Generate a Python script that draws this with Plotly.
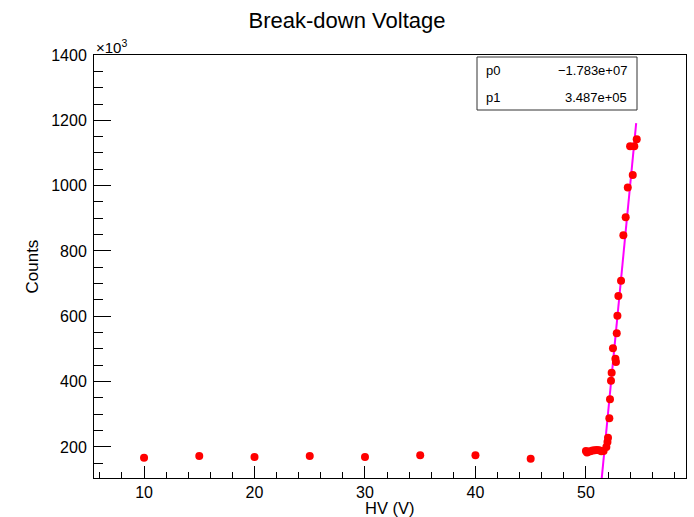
import plotly.graph_objects as go

# ---- data (counts in units of 10^3) ----
hv = [10, 15, 20, 25, 30, 35, 40, 45,
      50.0, 50.1, 50.2, 50.4, 50.6, 50.8, 51.0, 51.2, 51.4, 51.6,
      51.85, 51.95, 52.0,
      52.12, 52.18, 52.27, 52.33, 52.45, 52.67, 52.72, 52.79, 52.85, 52.94,
      53.18, 53.39, 53.6, 53.79, 54.0, 54.24, 54.38, 54.6]
counts_k = [167, 172, 169, 172, 169, 175, 175, 164,
            188, 183, 185, 187, 189, 190, 191, 190, 187, 188,
            200, 215, 228,
            288, 346, 403, 427, 502, 470, 460, 548, 602, 662,
            709, 848, 903, 994, 1121, 1033, 1121, 1142]

fit_names = ["p0", "p1"]
fit_params = [-1.783e7, 3.487e5]
fit_labels = ["\u22121.783e+07", "3.487e+05"]
fit_range = [51.3, 54.55]

x_range = [5.47, 59.06]
y_range = [105, 1400]

# fit line from parameters
fx = [fit_range[0], fit_range[1]]
fy = [(fit_params[0] + fit_params[1] * v) / 1000.0 for v in fx]

fig = go.Figure()
fig.add_trace(go.Scatter(x=fx, y=fy, mode="lines",
                         line=dict(color="#ff00ff", width=2), showlegend=False,
                         hoverinfo="skip"))
fig.add_trace(go.Scatter(x=hv, y=counts_k, mode="markers",
                         marker=dict(color="#ff0000", size=8, symbol="circle"),
                         showlegend=False))

font_main = "Liberation Sans, Arial, Helvetica, sans-serif"

fig.update_layout(
    width=694, height=517,
    paper_bgcolor="white", plot_bgcolor="white",
    margin=dict(l=94, r=8, t=55, b=39),
    font=dict(family=font_main, size=16, color="black"),
    title=dict(text="Break-down Voltage", x=347/694, xref="container",
               xanchor="center", y=1 - 20/517, yanchor="middle",
               font=dict(size=22, family=font_main, color="black")),
    showlegend=False,
)

fig.update_xaxes(range=x_range, showgrid=False, zeroline=False,
                 showline=True, linecolor="black", linewidth=1, mirror=True,
                 ticks="inside", ticklen=12, tickcolor="black", tickwidth=1,
                 dtick=10, tick0=0,
                 minor=dict(ticks="inside", ticklen=6, dtick=2, tick0=0,
                            tickcolor="black", showgrid=False),
                 tickfont=dict(size=16), ticklabelstandoff=0)
fig.update_yaxes(range=y_range, showgrid=False, zeroline=False,
                 showline=True, linecolor="black", linewidth=1, mirror=True,
                 ticks="inside", ticklen=17, tickcolor="black", tickwidth=1,
                 dtick=200, tick0=0,
                 minor=dict(ticks="inside", ticklen=9, dtick=50, tick0=0,
                            tickcolor="black", showgrid=False),
                 tickfont=dict(size=16), ticklabelstandoff=3)

ann = []
# axis titles
ann.append(dict(text="HV (V)", xref="paper", yref="paper", x=0.5, y=(478-507.5)/423,
                xanchor="center", yanchor="middle", showarrow=False,
                font=dict(size=16.5)))
ann.append(dict(text="Counts", xref="paper", yref="paper", x=(32-94)/592, y=0.5,
                xanchor="center", yanchor="middle", showarrow=False, textangle=-90,
                font=dict(size=17)))
# exponent
ann.append(dict(text="\u00d710<sup>3</sup>", xref="paper", yref="paper", x=0.0, y=(478-46)/423,
                xanchor="left", yanchor="middle", showarrow=False,
                font=dict(size=15)))

# stat box
bx0, bx1 = (477-94)/592, (637-94)/592
by0, by1 = (478-110)/423, (478-57)/423
shapes = [dict(type="rect", xref="paper", yref="paper", x0=bx0, x1=bx1, y0=by0, y1=by1,
               line=dict(color="#333333", width=1), fillcolor="white", layer="above")]
row_y = [(478-70)/423, (478-97)/423]
for name, lab, ry in zip(fit_names, fit_labels, row_y):
    ann.append(dict(text=name, xref="paper", yref="paper", x=(484-94)/592, y=ry,
                    xanchor="left", yanchor="middle", showarrow=False,
                    font=dict(size=13)))
    ann.append(dict(text=lab, xref="paper", yref="paper", x=(629-94)/592, y=ry,
                    xanchor="right", yanchor="middle", showarrow=False,
                    font=dict(size=13)))

fig.update_layout(annotations=ann, shapes=shapes)

fig.write_html("out.html", config={"displayModeBar": False},
               post_script="document.body.style.margin='0';document.body.style.overflow='hidden';")
